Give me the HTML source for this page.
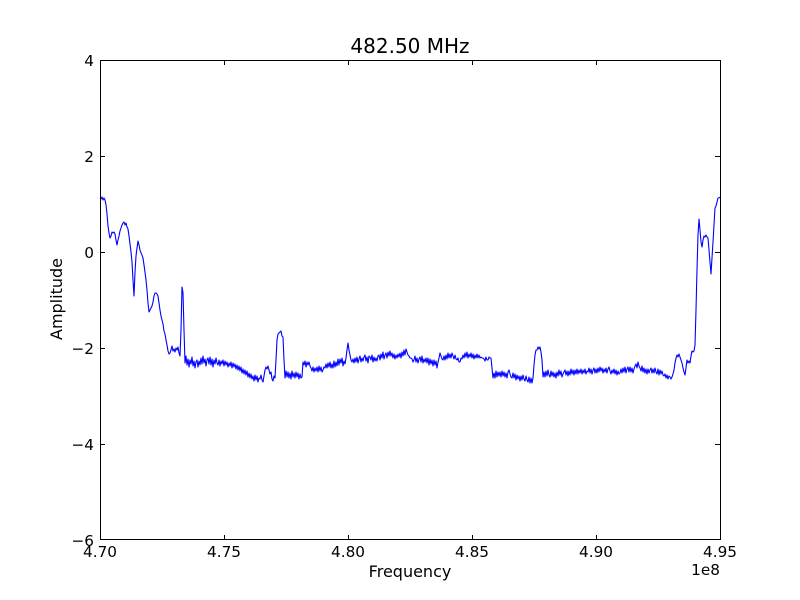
<!DOCTYPE html>
<html><head><meta charset="utf-8"><style>
html,body{margin:0;padding:0;background:#fff;}
svg{display:block;}
text{font-family:"DejaVu Sans","Liberation Sans",sans-serif;fill:#000;}
</style></head><body>
<svg width="800" height="600" viewBox="0 0 800 600" xmlns="http://www.w3.org/2000/svg">
<rect x="0" y="0" width="800" height="600" fill="#fff"/>
<polyline fill="none" stroke="#0000ff" stroke-width="1.1" stroke-linejoin="round" points="100,198 101,199 102,197 103,200 104,198 105,200 106,205 107,214 108,226 109,233 110,238 111,236 112,232 113,233 114,232 115,234 116,240 117,245 118,240 119,236 120,231 121,228 122,225 123,223 124,222 125,225 126,223 127,227 128,229 129,236 130,244 131,252 132,262 133,280 134,296 135,272 136,256 137,248 138,241 139,245 140,250 141,253 142,255 143,258 144,265 145,272 146,280 147,290 148,303 149,312 150,310 151,308 152,306 153,302 154,296 155,293 156,293 157,294 158,296 159,303 160,310 161,316 162,320 163,324 164,331 165,334 166,340 167,345 168,351 169,354 170,353 171,350 172,346 173,351 174,349 175,352 176,348 177,350 178,347 179,353 180,356 181,330 182,287 183,293 184,330 185,363
186,356 187,365 188,359 189,367 190,360 191,364 192,357 193,366 194,361 195,368 196,362 197,360 198,367 199,361 200,365 201,358 202,364 203,356 204,363 205,359 206,366 207,360 208,358 209,364 210,357 211,365 212,359 213,367 214,360 215,364 216,358 217,363 218,365 219,360 220,366 221,361 222,364 223,360 224,366 225,361 226,365 227,362 228,367 229,363 230,366 231,362 232,368 233,363 234,367 235,364 236,369 237,365 238,370 239,366 240,371 241,367 242,373 243,369 244,374 245,370 246,375 247,371 248,377 249,373 250,378 251,374 252,379 253,376 254,381 255,375 256,380 257,376 258,382 259,378 260,379 261,375 262,380 263,382 264,376 265,370 266,367 267,369 268,366 269,370 270,374 271,372 272,379 273,381 274,376 275,378 276,360 277,340 278,334 279,333 280,332 281,331 282,336 283,337 284,360 285,378
286,371 287,377 288,372 289,378 290,373 291,379 292,371 293,377 294,373 295,378 296,372 297,377 298,373 299,379 300,374 301,378 302,377 303,362 304,365 305,361 306,367 307,362 308,365 309,362 310,366 311,368 312,371 313,367 314,372 315,368 316,371 317,367 318,372 319,366 320,371 321,367 322,372 323,370 324,367 325,368 326,364 327,368 328,363 329,367 330,362 331,368 332,364 333,368 334,361 335,367 336,362 337,366 338,359 339,365 340,359 341,363 342,358 343,366 344,361 345,364 346,358 347,350 348,343 349,350 350,355 351,360 352,362 353,359 354,363 355,358 356,362 357,357 358,363 359,359 360,356 361,362 362,358 363,361 364,357 365,355 366,361 367,357 368,363 369,356 370,357 371,360 372,355 373,362 374,357 375,361 376,358 377,361 378,356 379,355 380,360 381,354 382,358 383,352 384,359 385,355 386,353 387,358 388,352 389,356 390,351 391,356 392,353 393,358 394,354 395,359 396,355 397,358 398,354 399,357 400,353 401,358 402,352 403,356 404,350 405,355 406,349 407,352 408,355 409,356 410,358 411,358 412,359 413,362 414,360 415,356 416,362 417,358 418,363 419,359 420,357 421,362 422,356 423,363 424,359 425,362 426,358 427,363 428,358 429,365 430,359 431,364 432,360 433,366 434,360 435,365 436,361 437,368 438,362 439,358 440,353 441,356 442,359 443,360 444,356 445,360 446,355 447,359 448,353 449,358 450,354 451,358 452,353 453,356 454,359 455,355 456,359 457,360 458,358 459,362 460,362 461,358 462,359 463,355 464,358 465,353 466,357 467,352 468,358 469,354 470,357 471,353 472,358 473,354 474,359 475,355 476,358 477,354 478,358 479,355 480,358 481,357 482,358 483,358 484,359 485,361 486,357 487,360 488,360 489,357 490,358 491,358 492,368 493,378
494,373 495,378 496,371 497,377 498,372 499,376 500,372 501,377 502,371 503,376 504,372 505,377 506,373 507,378 508,372 509,370 510,374 511,377 512,378 513,373 514,378 515,374 516,380 517,375 518,379 519,376 520,381 521,376 522,380 523,375 524,379 525,381 526,376 527,380 528,382 529,377 530,383 531,378 532,383 533,378 534,365 535,355 536,350 537,350 538,347 539,349 540,347 541,352 542,360 543,377
544,372 545,377 546,371 547,376 548,370 549,375 550,377 551,371 552,376 553,372 554,377 555,373 556,378 557,372 558,376 559,370 560,375 561,371 562,377 563,374 564,372 565,370 566,375 567,371 568,376 569,371 570,375 571,369 572,374 573,370 574,375 575,370 576,374 577,369 578,374 579,370 580,373 581,369 582,374 583,370 584,373 585,369 586,374 587,371 588,372 589,368 590,373 591,369 592,374 593,370 594,368 595,373 596,369 597,373 598,368 599,372 600,367 601,371 602,368 603,373 604,369 605,372 606,368 607,373 608,369 609,367 610,371 611,374 612,370 613,373 614,369 615,374 616,370 617,375 618,371 619,374 620,373 621,369 622,373 623,368 624,372 625,367 626,373 627,369 628,367 629,372 630,367 631,372 632,368 633,373 634,369 635,366 636,364 637,368 638,362 639,366 640,368 641,371 642,366 643,372 644,368 645,373 646,369 647,374 648,369 649,373 650,370 651,368 652,373 653,369 654,373 655,368 656,372 657,374 658,369 659,375 660,370 661,374 662,371 663,375 664,376 665,374 666,378 667,375 668,379 669,376 670,377 671,379 672,377 673,374 674,370 675,363 676,358 677,355 678,357 679,354 680,357 681,360 682,363 683,368 684,372 685,375 686,368 687,360 688,363 689,361 690,363 691,356 692,351 693,352 694,351 695,345 696,310 697,270 698,235 699,219 700,230 701,242 702,247 703,240 704,236 705,237 706,235 707,237 708,238 709,250 710,262 711,274 712,258 713,242 714,225 715,208 716,206 717,202 718,198 719,198 720,197"/>
<rect x="100.5" y="60.5" width="620" height="479" fill="none" stroke="#000" stroke-width="1"/>
<g stroke="#000" stroke-width="1">
<line x1="100" y1="156.5" x2="105" y2="156.5"/><line x1="715" y1="156.5" x2="720" y2="156.5"/>
<line x1="100" y1="252.5" x2="105" y2="252.5"/><line x1="715" y1="252.5" x2="720" y2="252.5"/>
<line x1="100" y1="348.5" x2="105" y2="348.5"/><line x1="715" y1="348.5" x2="720" y2="348.5"/>
<line x1="100" y1="444.5" x2="105" y2="444.5"/><line x1="715" y1="444.5" x2="720" y2="444.5"/>
<line x1="224.5" y1="540" x2="224.5" y2="535"/><line x1="224.5" y1="60" x2="224.5" y2="65"/>
<line x1="348.5" y1="540" x2="348.5" y2="535"/><line x1="348.5" y1="60" x2="348.5" y2="65"/>
<line x1="472.5" y1="540" x2="472.5" y2="535"/><line x1="472.5" y1="60" x2="472.5" y2="65"/>
<line x1="596.5" y1="540" x2="596.5" y2="535"/><line x1="596.5" y1="60" x2="596.5" y2="65"/>
</g>
<g font-size="15.3" text-anchor="end">
<text x="94" y="66">4</text>
<text x="94" y="162">2</text>
<text x="94" y="258">0</text>
<text x="94" y="354">−2</text>
<text x="94" y="450">−4</text>
<text x="94" y="546">−6</text>
</g>
<g font-size="15.3" text-anchor="middle">
<text x="100" y="557">4.70</text>
<text x="224" y="557">4.75</text>
<text x="348" y="557">4.80</text>
<text x="472" y="557">4.85</text>
<text x="596" y="557">4.90</text>
<text x="720" y="557">4.95</text>
</g>
<text x="720" y="575" font-size="15.3" text-anchor="end">1e8</text>
<text x="410" y="577" font-size="16" text-anchor="middle">Frequency</text>
<text transform="translate(62,299) rotate(-90)" font-size="16" text-anchor="middle">Amplitude</text>
<text x="410" y="53" font-size="20" text-anchor="middle">482.50 MHz</text>
</svg>
</body></html>
